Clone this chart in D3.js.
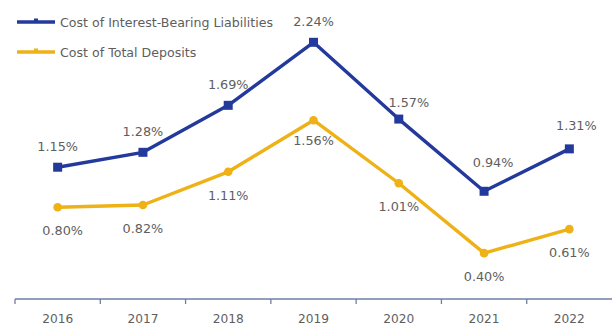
<!DOCTYPE html>
<html>
<head>
<meta charset="utf-8">
<script src="https://cdn.jsdelivr.net/npm/d3@7"></script>
<style>
  html, body { margin: 0; padding: 0; background: #ffffff; }
  svg { display: block; }
  text { font-family: "DejaVu Sans", sans-serif; fill: #5e5e5e; }
</style>
</head>
<body>
<svg id="chart" width="615" height="334"></svg>
<script>
// Years on the x axis
const years = ["2016", "2017", "2018", "2019", "2020", "2021", "2022"];
// Cost of interest-bearing liabilities (%)
const liabilities = [1.15, 1.28, 1.69, 2.24, 1.57, 0.94, 1.31];
// Cost of total deposits (%)
const deposits = [0.80, 0.82, 1.11, 1.56, 1.01, 0.40, 0.61];

const seriesNames = ["Cost of Interest-Bearing Liabilities", "Cost of Total Deposits"];

const BLUE = "#233a9c";
const GOLD = "#eeb116";

// Hand-placed label nudges (dx, dy in px) where a label would sit on the line
const liabLabelNudge = { "2020": [10, 4], "2021": [9, -8], "2022": [7, -2] };
const depLabelNudge = { "2016": [5, 0], "2019": [0, -3] };

const svg = d3.select("#chart");

const x = d3.scaleBand().domain(years).range([15, 612]);
const y = d3.scaleLinear().domain([0, 2.5]).range([299, 12.5]);
const cx = d => x(d) + x.bandwidth() / 2;

// x axis: baseline with ticks between categories
const axis = svg.append("g").attr("transform", "translate(0,299)");
axis.append("line")
  .attr("x1", x.range()[0]).attr("x2", x.range()[1])
  .attr("stroke", "#6f7ea6").attr("stroke-width", 1.3);
axis.selectAll("line.tick").data(years).enter().append("line")
  .attr("class", "tick")
  .attr("x1", d => x(d)).attr("x2", d => x(d))
  .attr("y1", 0).attr("y2", 5)
  .attr("stroke", "#6f7ea6").attr("stroke-width", 1.3);
axis.selectAll("text").data(years).enter().append("text")
  .attr("x", d => cx(d)).attr("y", 24)
  .attr("text-anchor", "middle")
  .attr("font-size", 12.2)
  .text(d => d);

const line = d3.line().x(d => cx(d.year)).y(d => y(d.v));

function drawSeries(vals, color, marker, labelAbove, nudge) {
  const pts = years.map((yr, i) => ({ year: yr, v: vals[i] }));
  svg.append("path").datum(pts)
    .attr("d", line)
    .attr("fill", "none")
    .attr("stroke", color)
    .attr("stroke-width", 3.4)
    .attr("stroke-linejoin", "round");
  if (marker === "square") {
    svg.selectAll(null).data(pts).enter().append("rect")
      .attr("x", d => cx(d.year) - 4.5).attr("y", d => y(d.v) - 4.5)
      .attr("width", 9).attr("height", 9)
      .attr("fill", color);
  } else {
    svg.selectAll(null).data(pts).enter().append("circle")
      .attr("cx", d => cx(d.year)).attr("cy", d => y(d.v))
      .attr("r", 4.3)
      .attr("fill", color);
  }
  svg.selectAll(null).data(pts).enter().append("text")
    .attr("x", d => cx(d.year) + (nudge[d.year] ? nudge[d.year][0] : 0))
    .attr("y", d => (labelAbove ? y(d.v) - 16.5 : y(d.v) + 28) + (nudge[d.year] ? nudge[d.year][1] : 0))
    .attr("text-anchor", "middle")
    .attr("font-size", 12.8)
    .text(d => d.v.toFixed(2) + "%");
}

drawSeries(deposits, GOLD, "circle", false, depLabelNudge);
drawSeries(liabilities, BLUE, "square", true, liabLabelNudge);

// Legend
const legend = svg.append("g");
const legendItems = [
  { name: seriesNames[0], color: BLUE, y: 22 },
  { name: seriesNames[1], color: GOLD, y: 52 }
];
legendItems.forEach(it => {
  legend.append("line")
    .attr("x1", 17).attr("x2", 55).attr("y1", it.y).attr("y2", it.y)
    .attr("stroke", it.color).attr("stroke-width", 3.3);
  legend.append("rect")
    .attr("x", 34).attr("y", it.y - 3.5).attr("width", 4).attr("height", 3.5)
    .attr("fill", it.color);
  legend.append("text")
    .attr("x", 60).attr("y", it.y + 4.5)
    .attr("font-size", 12.6)
    .text(it.name);
});
</script>
</body>
</html>
